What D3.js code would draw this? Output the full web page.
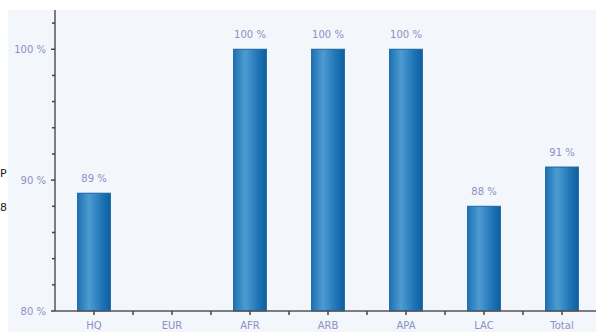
<!DOCTYPE html>
<html><head><meta charset="utf-8">
<script src="https://cdn.jsdelivr.net/npm/d3@7"></script>
<style>body{margin:0;background:#fff;}svg{display:block;font-family:"DejaVu Sans",Verdana,sans-serif;}</style>
</head><body>
<svg id="c" width="596" height="332"></svg>
<script>
const categories = ["HQ","EUR","AFR","ARB","APA","LAC","Total"];
const values = [89, null, 100, 100, 100, 88, 91];
const yTicks = [80, 90, 100];
const yMinorTicks = [82,84,86,88,92,94,96,98,102];

const svg = d3.select("#c");
const W = 596, H = 332;
const m = {l:55, t:10, b:21};
svg.append("rect").attr("x",8).attr("y",10).attr("width",W-8).attr("height",H-10).attr("fill","#f3f7fc");

// stray fragments at left edge
svg.append("text").attr("x",0).attr("y",177).attr("font-size",11).attr("fill","#222").text("P");
svg.append("text").attr("x",0).attr("y",211).attr("font-size",11).attr("fill","#222").text("8");

const x = d3.scaleBand().domain(categories).range([m.l, m.l + 78*7]).paddingInner(0.58).paddingOuter(0.29);
const y = d3.scaleLinear().domain([80, 103]).range([311, 10]);

const defs = svg.append("defs");
const g = defs.append("linearGradient").attr("id","bg").attr("x1","0").attr("x2","1").attr("y1","0").attr("y2","0");
[[0,"#1e72b4"],[0.35,"#4d9bd1"],[0.75,"#1f74b6"],[1,"#0e5f9f"]].forEach(s=>g.append("stop").attr("offset",s[0]).attr("stop-color",s[1]));

const data = categories.map((c,i)=>({c, v:values[i]})).filter(d=>d.v!=null);
svg.selectAll("rect.bar").data(data).join("rect").attr("class","bar")
  .attr("x",d=>x(d.c)).attr("width",x.bandwidth())
  .attr("y",d=>y(d.v)).attr("height",d=>y(80)-y(d.v))
  .attr("fill","url(#bg)").attr("stroke","#1765a3").attr("stroke-width",1);

svg.selectAll("text.lbl").data(data).join("text").attr("class","lbl")
  .attr("x",d=>x(d.c)+x.bandwidth()/2).attr("y",d=>y(d.v)-11)
  .attr("text-anchor","middle").attr("font-size",10).attr("fill","#8c90c4")
  .text(d=>d.v+" %");

// y axis
const ya = svg.append("g").attr("transform",`translate(${m.l},0)`);
ya.append("line").attr("y1",y(103)).attr("y2",y(80)).attr("stroke","#555").attr("stroke-width",1.5);
ya.selectAll("line.mt").data(yMinorTicks).join("line").attr("x1",-3).attr("x2",0).attr("y1",d=>y(d)).attr("y2",d=>y(d)).attr("stroke","#444").attr("stroke-width",1.5);
ya.selectAll("line.t").data(yTicks).join("line").attr("x1",-4).attr("x2",0).attr("y1",d=>y(d)).attr("y2",d=>y(d)).attr("stroke","#444").attr("stroke-width",1.5);
ya.selectAll("text").data(yTicks).join("text").attr("x",-9).attr("y",d=>y(d)+4).attr("text-anchor","end")
  .attr("font-size",10).attr("fill","#8c90c4").text(d=>d+" %");

// x axis
const xa = svg.append("g");
xa.append("line").attr("x1",m.l).attr("x2",W).attr("y1",311).attr("y2",311).attr("stroke","#555").attr("stroke-width",1.5);
const step = x.step();
const bounds = d3.range(1,8).map(i=>m.l+i*step);
xa.selectAll("line.bt").data(bounds).join("line").attr("x1",d=>d).attr("x2",d=>d).attr("y1",311).attr("y2",315).attr("stroke","#444").attr("stroke-width",1.5);
xa.selectAll("line.ct").data(categories).join("line").attr("x1",d=>x(d)+x.bandwidth()/2).attr("x2",d=>x(d)+x.bandwidth()/2).attr("y1",311).attr("y2",315).attr("stroke","#444").attr("stroke-width",1.5);
xa.selectAll("text").data(categories).join("text").attr("x",d=>x(d)+x.bandwidth()/2).attr("y",329)
  .attr("text-anchor","middle").attr("font-size",10).attr("fill","#8c90c4").text(d=>d);
</script>
</body></html>
